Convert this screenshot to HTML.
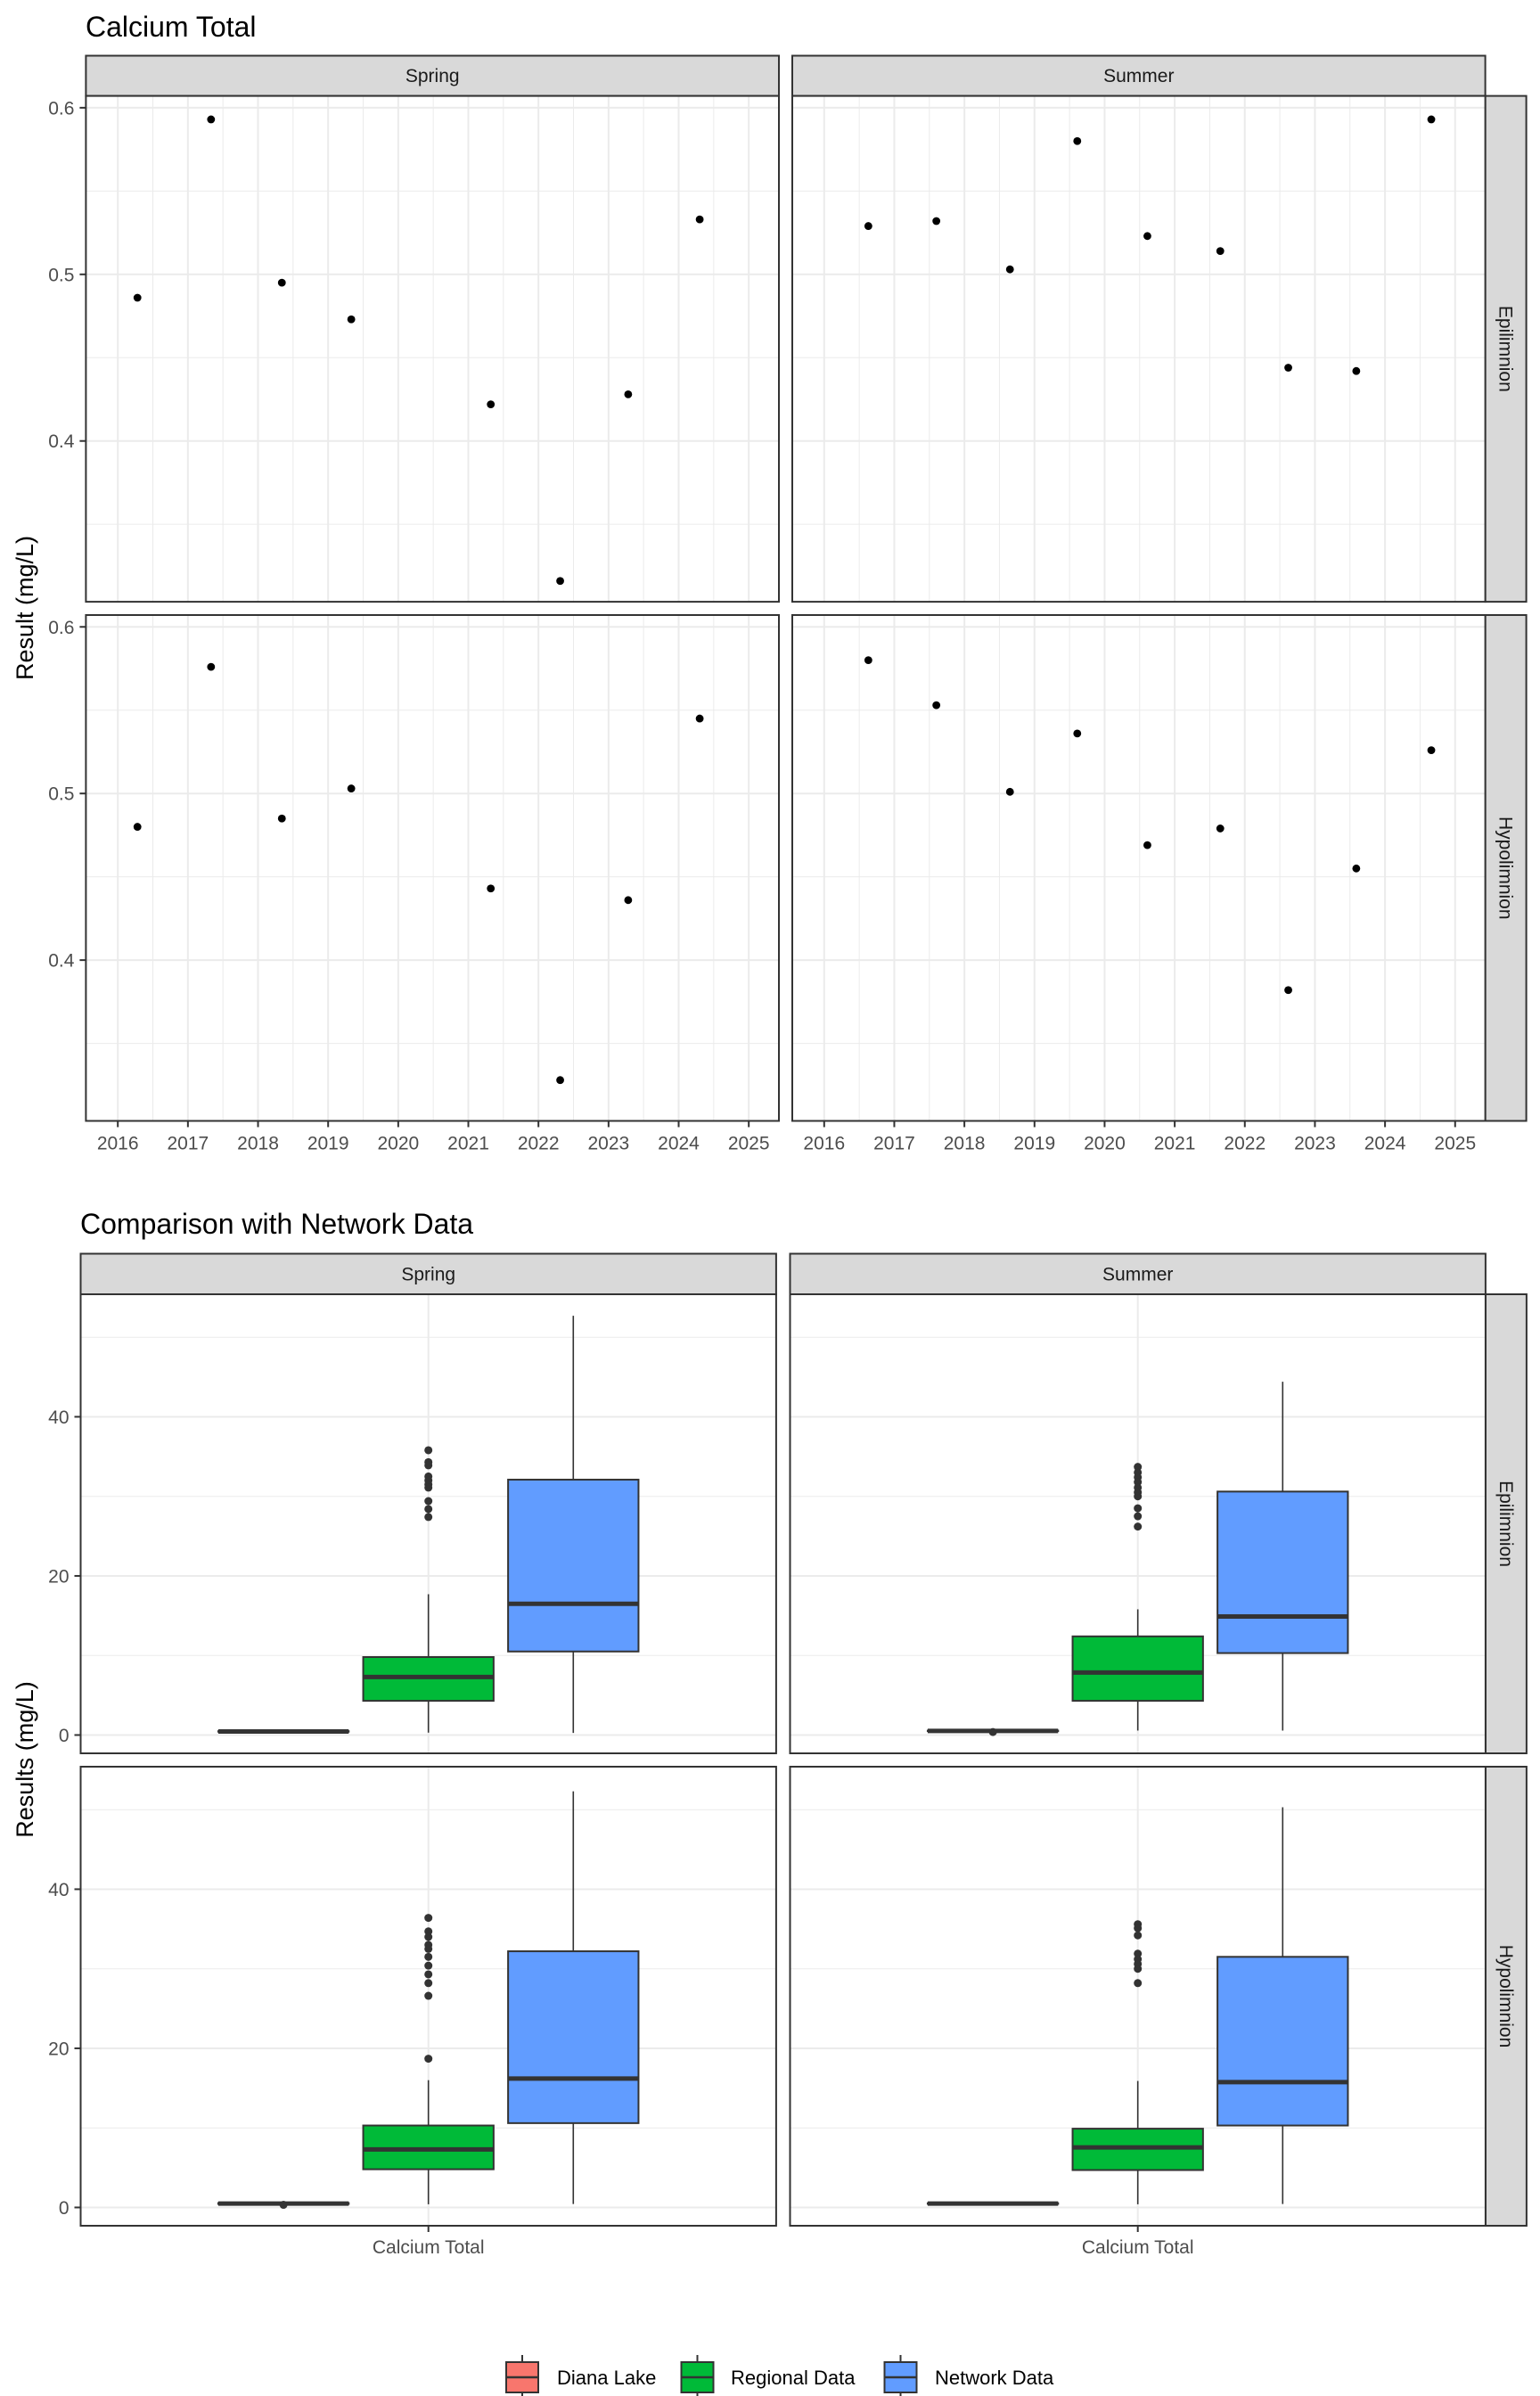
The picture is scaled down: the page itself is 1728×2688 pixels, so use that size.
<!DOCTYPE html>
<html><head><meta charset="utf-8"><title>Calcium Total</title>
<style>
html,body{margin:0;padding:0;background:#fff;}
svg{display:block;font-family:"Liberation Sans",Arial,sans-serif;}
</style></head>
<body>
<svg id="fig" width="1728" height="2688" viewBox="0 0 1728 2688" xmlns="http://www.w3.org/2000/svg">
<rect x="0" y="0" width="1728" height="2688" fill="#fff"/>
<text x="96" y="41" font-size="32" fill="#000">Calcium Total</text>
<text x="90" y="1384" font-size="32" fill="#000">Comparison with Network Data</text>
<text transform="translate(37,682) rotate(-90)" text-anchor="middle" font-size="27" fill="#000">Result (mg/L)</text>
<text transform="translate(37,1974) rotate(-90)" text-anchor="middle" font-size="27" fill="#000">Results (mg/L)</text>
<g id="topchart"></g>
<g id="botchart"></g>
<g id="legend"></g>
</svg>
<script>
// ---- Top chart data ----
const yearTicks = [2016,2017,2018,2019,2020,2021,2022,2023,2024,2025];
const topYTicks = [0.4,0.5,0.6];
const topYTickLabels = ["0.4","0.5","0.6"];
const springDates = [2016.28,2017.33,2018.34,2019.33,2021.32,2022.31,2023.28,2024.30];
const springEpi = [0.486,0.593,0.495,0.473,0.422,0.316,0.428,0.533];
const springHypo = [0.480,0.576,0.485,0.503,0.443,0.328,0.436,0.545];
const summerDates = [2016.63,2017.60,2018.65,2019.61,2020.61,2021.65,2022.62,2023.59,2024.66];
const summerEpi = [0.529,0.532,0.503,0.580,0.523,0.514,0.444,0.442,0.593];
const summerHypo = [0.580,0.553,0.501,0.536,0.469,0.479,0.382,0.455,0.526];

// ---- Bottom chart data ----
const groups = ["Diana Lake","Regional Data","Network Data"];
const groupColors = ["#F8766D","#00BA38","#619CFF"];
const botYTicks = [0,20,40];
const botYTickLabels = ["0","20","40"];
// [lower whisker, q1, median, q3, upper whisker]
const springEpiStats = [[0.35,0.42,0.45,0.48,0.59],[0.3,4.3,7.3,9.8,17.7],[0.26,10.5,16.5,32.1,52.7]];
const springEpiOut = [[],[35.8,34.3,33.9,32.5,32.0,31.5,31.1,29.4,28.4,27.4],[]];
const summerEpiStats = [[0.44,0.5,0.52,0.55,0.59],[0.56,4.3,7.85,12.4,15.8],[0.56,10.3,14.9,30.6,44.4]];
const summerEpiOut = [[0.38],[33.7,33.0,32.4,31.8,31.1,30.5,30.0,28.5,27.5,26.2],[]];
const springHypoStats = [[0.38,0.44,0.48,0.55,0.58],[0.4,4.8,7.3,10.3,16.0],[0.43,10.6,16.2,32.2,52.3]];
const springHypoOut = [[0.33],[36.4,34.7,34.0,33.0,32.5,31.5,30.4,29.3,28.2,26.6,18.7],[]];
const summerHypoStats = [[0.38,0.45,0.48,0.53,0.58],[0.4,4.7,7.55,9.9,15.9],[0.43,10.3,15.75,31.5,50.3]];
const summerHypoOut = [[],[35.6,35.1,34.2,31.9,31.2,30.6,30.0,28.2],[]];

const NS = "http://www.w3.org/2000/svg";
function mk(parent, tag, attrs, text){
  const e = document.createElementNS(NS, tag);
  for (const k in attrs) e.setAttribute(k, attrs[k]);
  if (text !== undefined) e.textContent = text;
  parent.appendChild(e);
  return e;
}
const TICK = "#4D4D4D", GRID = "#EBEBEB", BORDER = "#333333", STRIP = "#D9D9D9";

function stripTop(g, x, y, w, h, label, name){
  const r = mk(g,"rect",{x:x,y:y,width:w,height:h,fill:STRIP,stroke:BORDER,"stroke-width":2});
  
  
  const t = mk(g,"text",{x:x+w/2,y:y+h/2+7,"text-anchor":"middle","font-size":21,fill:"#1A1A1A"},label);
  
  
}
function stripRight(g, x, y, w, h, label, name){
  const r = mk(g,"rect",{x:x,y:y,width:w,height:h,fill:STRIP,stroke:BORDER,"stroke-width":2});
  
  
  const t = mk(g,"text",{transform:`translate(${x+w/2-7},${y+h/2}) rotate(90)`,"text-anchor":"middle","font-size":21,fill:"#1A1A1A"},label);
  
  
}

// ===== Top chart =====
const topG = document.getElementById("topchart");
const TW = 777.6, TH = 567.5;
const topCols = [96.4, 889.0];
const topRows = [107.6, 690.0];
const XMIN = 2015.545, XMAX = 2025.43, YMIN = 0.3035, YMAX = 0.6071;
function xTime(left){ return d => left + (d - XMIN)/(XMAX - XMIN)*TW; }
function yTop(t){ return v => t + (YMAX - v)/(YMAX - YMIN)*TH; }
const topSeries = [[springDates,springEpi,summerDates,summerEpi],[springDates,springHypo,summerDates,summerHypo]];
const seasons = ["Spring","Summer"];
const layers = ["Epilimnion","Hypolimnion"];

for (let c=0;c<2;c++) stripTop(topG, topCols[c], 62.5, TW, 45.1, seasons[c], "top-strip-"+seasons[c].toLowerCase());
for (let r=0;r<2;r++) stripRight(topG, topCols[1]+TW, topRows[r], 46, TH, layers[r], "top-strip-"+layers[r].toLowerCase());

for (let r=0;r<2;r++){
  for (let c=0;c<2;c++){
    const L = topCols[c], T = topRows[r];
    const X = xTime(L), Y = yTop(T);
    const pg = mk(topG,"g",{});
    
    
    mk(pg,"rect",{x:L,y:T,width:TW,height:TH,fill:"#fff"});
    [0.35,0.45,0.55].forEach(v=>{ mk(pg,"line",{x1:L,x2:L+TW,y1:Y(v),y2:Y(v),stroke:GRID,"stroke-width":1}); });
    for (let yv=2016.5; yv<2025; yv+=1){ mk(pg,"line",{x1:X(yv),x2:X(yv),y1:T,y2:T+TH,stroke:GRID,"stroke-width":1}); }
    topYTicks.forEach(v=>{ mk(pg,"line",{x1:L,x2:L+TW,y1:Y(v),y2:Y(v),stroke:GRID,"stroke-width":2}); });
    yearTicks.forEach(d=>{ mk(pg,"line",{x1:X(d),x2:X(d),y1:T,y2:T+TH,stroke:GRID,"stroke-width":2}); });
    const s = topSeries[r];
    const dates = s[c*2], vals = s[c*2+1];
    for (let i=0;i<vals.length;i++){
      const p = mk(pg,"circle",{cx:X(dates[i]),cy:Y(vals[i]),r:4.4,fill:"#000"});
      
      
    }
    mk(pg,"rect",{x:L,y:T,width:TW,height:TH,fill:"none",stroke:BORDER,"stroke-width":2});
    if (c===0){
      topYTicks.forEach((v,i)=>{
        mk(pg,"line",{x1:L-7,x2:L,y1:Y(v),y2:Y(v),stroke:BORDER,"stroke-width":2});
        const t = mk(pg,"text",{x:L-13,y:Y(v)+7.5,"text-anchor":"end","font-size":21,fill:TICK},topYTickLabels[i]);
        
        
      });
    }
    if (r===1){
      yearTicks.forEach(d=>{
        mk(pg,"line",{x1:X(d),x2:X(d),y1:T+TH,y2:T+TH+7,stroke:BORDER,"stroke-width":2});
        const t = mk(pg,"text",{x:X(d),y:T+TH+32,"text-anchor":"middle","font-size":21,fill:TICK},String(d));
        
        
      });
    }
  }
}

// ===== Bottom chart =====
const botG = document.getElementById("botchart");
const BW = 780.4, BH = 515;
const botCols = [90.5, 886.5];
const botRows = [1452, 1982];
const BYMIN = -2.3, BYMAX = 55.4;
function xCat(left){ return v => left + (v - 0.4)/1.2*BW; }
function yBot(t){ return v => t + (BYMAX - v)/(BYMAX - BYMIN)*BH; }
const botStats = [[springEpiStats,summerEpiStats],[springHypoStats,summerHypoStats]];
const botOut = [[springEpiOut,summerEpiOut],[springHypoOut,summerHypoOut]];
const dodge = [-0.25,0,0.25];
const boxHalf = 0.1125;

for (let c=0;c<2;c++) stripTop(botG, botCols[c], 1406.5, BW, 45.5, seasons[c], "bottom-strip-"+seasons[c].toLowerCase());
for (let r=0;r<2;r++) stripRight(botG, botCols[1]+BW, botRows[r], 46, BH, layers[r], "bottom-strip-"+layers[r].toLowerCase());

for (let r=0;r<2;r++){
  for (let c=0;c<2;c++){
    const L = botCols[c], T = botRows[r];
    const X = xCat(L), Y = yBot(T);
    const pg = mk(botG,"g",{});
    
    
    mk(pg,"rect",{x:L,y:T,width:BW,height:BH,fill:"#fff"});
    [10,30,50].forEach(v=>{ mk(pg,"line",{x1:L,x2:L+BW,y1:Y(v),y2:Y(v),stroke:GRID,"stroke-width":1}); });
    botYTicks.forEach(v=>{ mk(pg,"line",{x1:L,x2:L+BW,y1:Y(v),y2:Y(v),stroke:GRID,"stroke-width":2}); });
    mk(pg,"line",{x1:X(1),x2:X(1),y1:T,y2:T+BH,stroke:GRID,"stroke-width":2});
    const stats = botStats[r][c], outs = botOut[r][c];
    for (let g=0; g<3; g++){
      const s = stats[g];
      const cx = X(1+dodge[g]);
      const x0 = X(1+dodge[g]-boxHalf), x1 = X(1+dodge[g]+boxHalf);
      const bg = mk(pg,"g",{});
      
      
      mk(bg,"line",{x1:cx,x2:cx,y1:Y(s[4]),y2:Y(s[3]),stroke:BORDER,"stroke-width":1.6});
      mk(bg,"line",{x1:cx,x2:cx,y1:Y(s[1]),y2:Y(s[0]),stroke:BORDER,"stroke-width":1.6});
      mk(bg,"rect",{x:x0,y:Y(s[3]),width:x1-x0,height:Math.max(Y(s[1])-Y(s[3]),0.5),fill:groupColors[g],stroke:BORDER,"stroke-width":2});
      mk(bg,"line",{x1:x0,x2:x1,y1:Y(s[2]),y2:Y(s[2]),stroke:BORDER,"stroke-width":5});
      outs[g].forEach(v=>{
        const o = mk(bg,"circle",{cx:cx,cy:Y(v),r:4.5,fill:BORDER});
        
        
      });
    }
    mk(pg,"rect",{x:L,y:T,width:BW,height:BH,fill:"none",stroke:BORDER,"stroke-width":2});
    if (c===0){
      botYTicks.forEach((v,i)=>{
        mk(pg,"line",{x1:L-7,x2:L,y1:Y(v),y2:Y(v),stroke:BORDER,"stroke-width":2});
        const t = mk(pg,"text",{x:L-13,y:Y(v)+7.5,"text-anchor":"end","font-size":21,fill:TICK},botYTickLabels[i]);
        
        
      });
    }
    if (r===1){
      mk(pg,"line",{x1:X(1),x2:X(1),y1:T+BH,y2:T+BH+7,stroke:BORDER,"stroke-width":2});
      const t = mk(pg,"text",{x:X(1),y:T+BH+31,"text-anchor":"middle","font-size":21,fill:TICK},"Calcium Total");
      
      
    }
  }
}

// ===== Legend =====
const legG = document.getElementById("legend");
const keyX = [568, 764.5, 992.5];
const textX = [625, 820, 1049];
for (let g=0; g<3; g++){
  const eg = mk(legG,"g",{});
  
  
  const kx = keyX[g], cy = 2667;
  mk(eg,"line",{x1:kx+18,x2:kx+18,y1:cy-25,y2:cy+25,stroke:BORDER,"stroke-width":2});
  mk(eg,"rect",{x:kx,y:cy-17,width:36,height:34,fill:groupColors[g],stroke:BORDER,"stroke-width":2});
  mk(eg,"line",{x1:kx,x2:kx+36,y1:cy,y2:cy,stroke:BORDER,"stroke-width":2.5});
  mk(eg,"text",{x:textX[g],y:cy+8,"font-size":22,fill:"#000"},groups[g]);
}
</script>
</body></html>
